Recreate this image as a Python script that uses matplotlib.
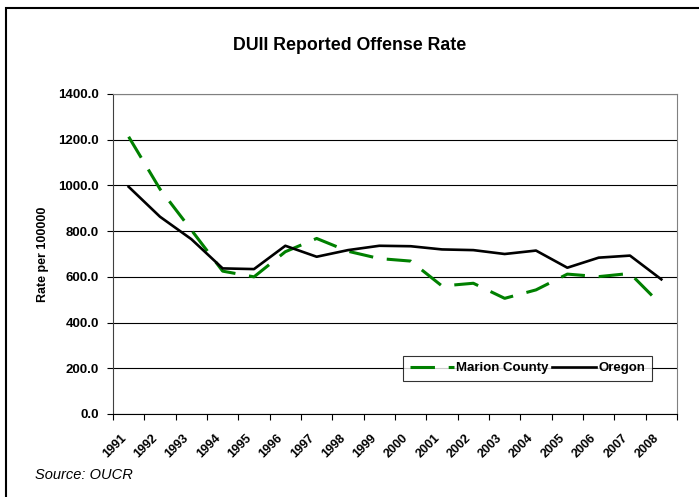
import numpy as np
import matplotlib.pyplot as plt
from matplotlib.patches import Rectangle

plt.rcParams['font.family'] = ['Liberation Sans', 'DejaVu Sans']

years = [str(y) for y in range(1991, 2009)]
marion = [1213, 984, 805, 625, 600, 710, 768, 712, 680, 669,
          560, 572, 506, 543, 612, 601, 615, 477]
oregon = [994, 863, 765, 637, 634, 736, 688, 717, 736, 734,
          720, 717, 700, 715, 640, 684, 693, 589]

fig = plt.figure(figsize=(6.99, 4.97), dpi=100)
ax = fig.add_axes([113 / 699, 1 - 414 / 497, 564 / 699, 320 / 497])

# outer chart border (right/bottom run off the image)
fig.patches.append(Rectangle((6 / 699, -0.1), 1.2, 1 - 8 / 497 + 0.1,
                             transform=fig.transFigure, fill=False,
                             edgecolor='black', linewidth=1.5, zorder=0))

x = np.arange(len(years))
ax.plot(x, marion, color='#008000', linewidth=2.2, dashes=(8, 4.5),
        label='Marion County', zorder=3)
ax.plot(x, oregon, color='black', linewidth=1.9, label='Oregon', zorder=3)

ax.set_xlim(-0.5, len(years) - 0.5)
ax.set_ylim(0, 1400)
ax.set_yticks(np.arange(0, 1401, 200))
ax.set_yticklabels(['%.1f' % v for v in np.arange(0, 1401, 200)],
                   fontsize=9.5, fontweight='bold')
ax.yaxis.grid(True, color='black', linewidth=0.8)
ax.set_axisbelow(True)

ax.set_xticks(np.arange(-0.5, len(years)), minor=False)
ax.set_xticklabels([])
ax.set_xticks(x, minor=True)
ax.set_xticklabels(years, minor=True, rotation=45, ha='right', va='top',
                   fontsize=9, fontweight='bold')
ax.tick_params(axis='x', which='minor', length=0, pad=13)
ax.tick_params(axis='x', which='major', length=4, direction='out')
ax.tick_params(axis='y', length=4, direction='out', pad=6)

ax.spines['left'].set_color('#404040')
ax.spines['bottom'].set_color('black')
ax.spines['top'].set_color('#808080')
ax.spines['right'].set_color('#808080')

ax.set_ylabel('Rate per 100000', fontsize=9, fontweight='bold')
ax.yaxis.set_label_coords(-64 / 564, 0.5)

fig.text(350 / 699, 1 - 46 / 497, 'DUII Reported Offense Rate',
         ha='center', va='center', fontsize=12.8, fontweight='bold')
fig.text(35 / 699, 1 - 475 / 497, 'Source: OUCR', ha='left', va='center',
         fontsize=10.5, style='italic')

leg = ax.legend(loc='lower left', bbox_to_anchor=(290 / 564, 33 / 320),
                ncol=2, frameon=True, fancybox=False,
                prop={'weight': 'bold', 'size': 9.5}, handlelength=3.4,
                columnspacing=0.2, handletextpad=0.15, borderpad=0.5,
                borderaxespad=0)
leg.get_frame().set_edgecolor('black')
leg.get_frame().set_linewidth(0.8)

fig.savefig('out.png', dpi=100)
